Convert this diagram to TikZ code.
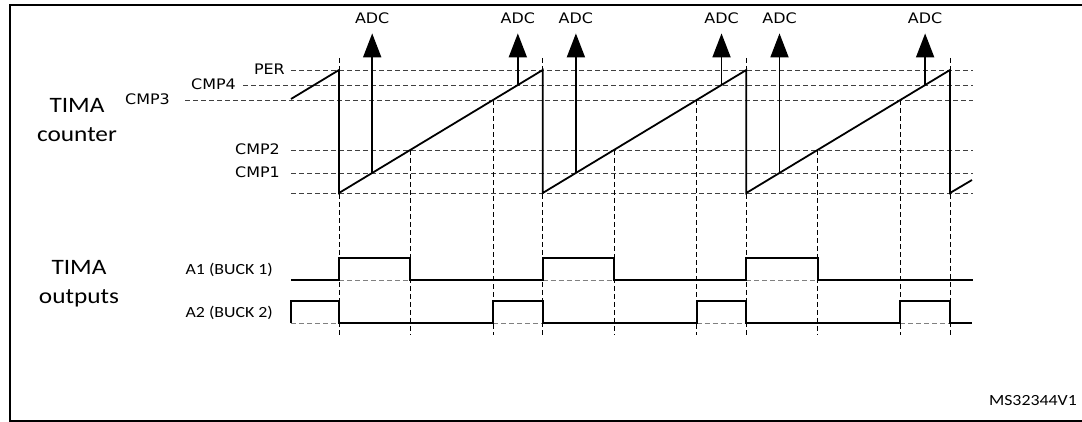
\documentclass[tikz,border=0pt]{standalone}
\usepackage{fontspec}
\newfontfamily\calib{Carlito}[FakeStretch=1.15]
\newfontfamily\dvs{DejaVu Sans}[FakeStretch=1.1]
\usepackage{tikz}
\usetikzlibrary{arrows.meta,positioning,calc}

\begin{document}
\begin{tikzpicture}[x=1pt,y=-1pt,
  lvl/.style={anchor=base east,inner sep=0pt,font=\dvs\fontsize{14.5}{16}\selectfont},
  adclab/.style={anchor=base,inner sep=0pt,font=\dvs\fontsize{14.5}{16}\selectfont},
  sig/.style={anchor=base east,inner sep=0pt,font=\calib\fontsize{15.5}{18}\selectfont},
  grouplab/.style={anchor=north,align=center,inner sep=0pt,font=\calib\fontsize{22}{29}\selectfont},
  lvlline/.style={black!75,dash pattern=on 5pt off 3pt,line width=0.8pt},
  vdash/.style={black,dash pattern=on 5pt off 3pt,line width=0.8pt},
  zeroline/.style={black!50,dash pattern=on 5pt off 3pt,line width=0.9pt},
  wave/.style={black,line width=1.8pt,line join=miter},
  trig/.style={line width=1.8pt,-{Triangle[length=24pt,width=18pt]},shorten >=9pt}]
\useasboundingbox (0,0) rectangle (1082,422);
\draw[line width=2pt] (1082,5) -| (10,421) -- (1082,421);
% left hand labels
\node[grouplab] (cnt) at (77,98) {TIMA\\counter};
\node[grouplab] (outs) at (79,260) {TIMA\\outputs};
% counter levels: value, name, start of the dashes, end of the label
\foreach \y/\nm/\lx/\tx in {70/PER/291/285, 85/CMP4/243/236, 100/CMP3/185/170, 150/CMP2/291/280, 173/CMP1/291/280}{
  \node[lvl] (\nm) at (\tx,\y+5) {\nm};
  \draw[lvlline] (\lx,\y) -- (973,\y);}
\draw[lvlline] (291,193) -- (973,193);
% period boundaries
\foreach \p in {339,542.7,746.3,950}{\draw[vdash] (\p,58) -- (\p,335);}
% the counter
\draw[wave] (291,99) -- (339,70) -- (339,193) -- (542.7,70) -- (542.7,193) -- (746.3,70)
  -- (746.3,193) -- (950,70) -- (950,193) -- (972,180);
% ADC triggers on CMP1 and CMP4, edges on CMP2 and CMP3
\foreach \p [count=\i] in {339,542.7,746.3}{
  \pgfmathsetmacro\xa{\p+0.163*203.67}
  \pgfmathsetmacro\xb{\p+0.878*203.67}
  \pgfmathsetmacro\xc{\p+0.35*203.67}
  \pgfmathsetmacro\xd{\p+0.756*203.67}
  \node[adclab] (adc\i a) at (\xa,24) {ADC};
  \node[adclab] (adc\i b) at (\xb,24) {ADC};
  \coordinate (cmpa\i) at (\xa,{193-0.163*123});
  \coordinate (cmpb\i) at (\xb,{193-0.878*123});
  \draw[trig] (cmpa\i) -- (adc\i a.south);
  \draw[trig] (cmpb\i) -- (adc\i b.south);
  \draw[vdash] (\xc,{193-0.35*123}) -- (\xc,335);
  \draw[vdash] (\xd,{193-0.756*123}) -- (\xd,335);}
% outputs
\node[sig] (a1) at (273,274) {A1 (BUCK 1)};
\node[sig] (a2) at (273,317) {A2 (BUCK 2)};
\foreach \a/\b in {339/410.3, 542.7/614, 746.3/817.6}{\draw[zeroline] (\a,280) -- (\b,280);}
\foreach \a/\b in {291/339, 493/542.7, 696.7/746.3, 900.3/950}{\draw[zeroline] (\a,323) -- (\b,323);}
\draw[wave] (291,280) -- (339,280) -- (339,258) -- (410.3,258) -- (410.3,280) -- (542.7,280)
  -- (542.7,258) -- (614,258) -- (614,280) -- (746.3,280) -- (746.3,258) -- (817.6,258)
  -- (817.6,280) -- (973,280);
\draw[wave] (291,323) -- (291,301) -- (339,301) -- (339,323) -- (493,323) -- (493,301)
  -- (542.7,301) -- (542.7,323) -- (696.7,323) -- (696.7,301) -- (746.3,301) -- (746.3,323)
  -- (900.3,323) -- (900.3,301) -- (950,301) -- (950,323) -- (972,323);
\node[anchor=base east,inner sep=0pt,font=\calib\fontsize{15.5}{18}\selectfont] (ref) at (1077,405) {MS32344V1};
\end{tikzpicture}
\end{document}
